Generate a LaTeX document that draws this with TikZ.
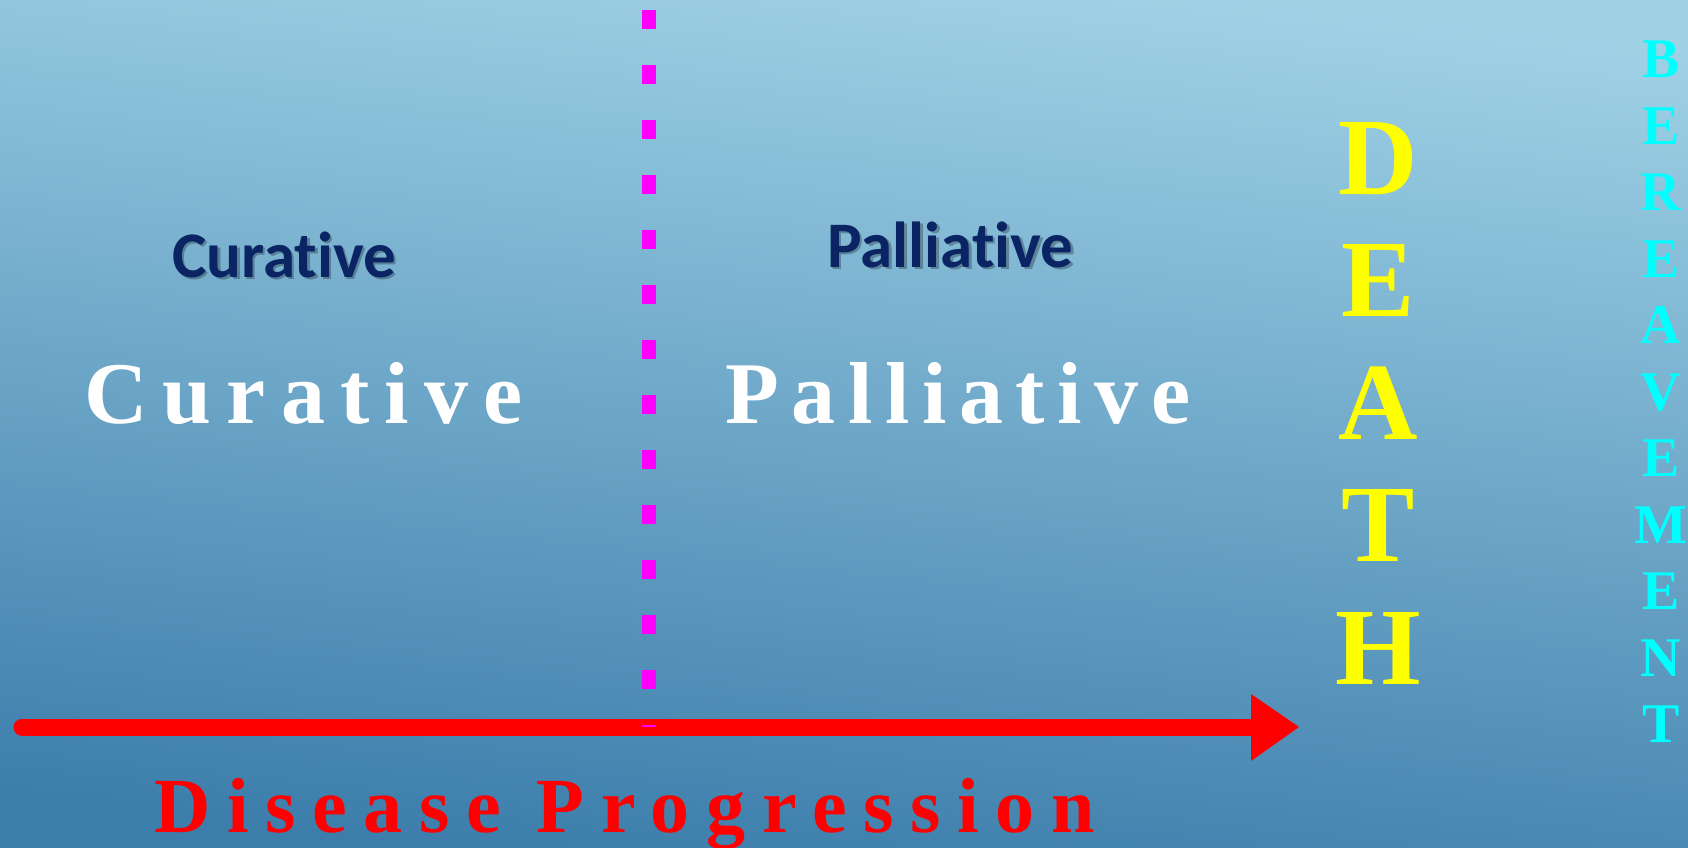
\documentclass[tikz,border=0pt]{standalone}
\usepackage{fontspec}
\setmainfont{Liberation Serif}
\newfontfamily\headfont[Ligatures=NoCommon]{Carlito}
\newfontfamily\boldserif{Liberation Serif Bold}
\newfontfamily\curfont[LetterSpace=17.2]{Liberation Serif Bold}
\newfontfamily\palfont[LetterSpace=14.3]{Liberation Serif Bold}
\newfontfamily\widefont[LetterSpace=21.3]{Liberation Serif Bold}
\definecolor{bgtop}{HTML}{A0D2E6}
\definecolor{bgbottom}{HTML}{3C7DAB}
\definecolor{navy}{HTML}{0B2464}
\definecolor{deathyellow}{HTML}{FFFF00}
\definecolor{grief}{HTML}{00FFFF}
\definecolor{divider}{HTML}{FF00FF}
\tikzset{
  x=1pt, y=-1pt,
  heading/.style={font=\headfont\bfseries\fontsize{65}{65}\selectfont, text=navy, anchor=base west, inner sep=0pt},
  headshadow/.style={font=\headfont\bfseries\fontsize{65}{65}\selectfont, text=black, opacity=0.28, anchor=base west, inner sep=0pt},
  phase/.style={font=\fontsize{88}{88}\selectfont, text=white, anchor=base west, inner sep=0pt},
  deathletter/.style={font=\boldserif\fontsize{110}{110}\selectfont, text=deathyellow, anchor=base, inner sep=0pt},
  griefletter/.style={font=\boldserif\fontsize{56}{56}\selectfont, text=grief, anchor=base, inner sep=0pt},
  shaft/.style={draw=red, line width=17pt, line cap=round},
  head/.style={fill=red},
  dividerline/.style={draw=divider, line width=14pt, dash pattern=on 19pt off 36pt},
  caption/.style={font=\widefont\fontsize{78}{78}\selectfont, text=red, anchor=base west, inner sep=0pt},
}
\begin{document}
\begin{tikzpicture}
% background
\shade[top color=bgtop, bottom color=bgbottom, shading angle=-6] (0,0) rectangle (1688,848);
\useasboundingbox (0,0) rectangle (1688,848);

% axis of disease progression: shaft and head
\coordinate (axisstart) at (22,727);
\coordinate (headbase) at (1252,727);
\coordinate (headtop) at (1251,694);
\coordinate (headbottom) at (1251,761);
\coordinate (axisend) at (1299,727);
\draw[shaft] (axisstart) -- (headbase);
\fill[head] (headtop) -- (axisend) -- (headbottom) -- cycle;

% divider between curative and palliative phases
\coordinate (divtop) at (649,10);
\coordinate (divbottom) at (649,727);
\draw[dividerline] (divtop) -- (divbottom);

% headings with soft shadow
\node[headshadow] (curshadow) at (174.5,279.5) {Curative};
\node[heading] (curhead) at (172,277) {Curative};
\node[headshadow] (palshadow) at (829.5,269.5) {Palliative};
\node[heading] (palhead) at (827,267) {Palliative};

% phase labels
\node[phase, font=\curfont\fontsize{88}{88}\selectfont] (curative) at (84,423) {Curative};
\node[phase, font=\palfont\fontsize{88}{88}\selectfont] (palliative) at (725,423) {Palliative};

% stacked DEATH
\foreach \l [count=\i] in {D,E,A,T,H}
  \node[deathletter] (death\i) at (1378,{194+122.5*(\i-1)}) {\l};

% stacked BEREAVEMENT
\foreach \l [count=\i] in {B,E,R,E,A,V,E,M,E,N,T}
  \node[griefletter] (grief\i) at (1661,{77.5+66.5*(\i-1)}) {\l};

% axis caption
\node[caption] (progression) at (154,832) {Disease Progression};
\end{tikzpicture}
\end{document}
